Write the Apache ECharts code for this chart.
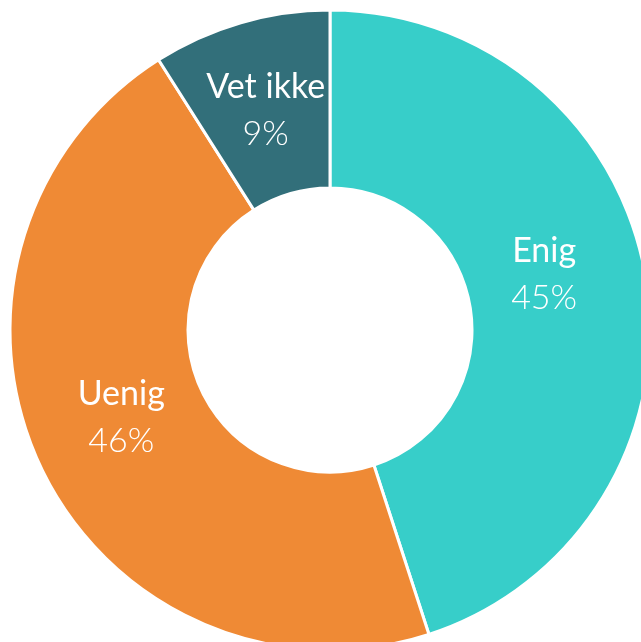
<!DOCTYPE html>
<html>
<head>
<meta charset="utf-8">
<script src="https://cdn.jsdelivr.net/npm/echarts@6/dist/echarts.min.js"></script>
<style>
  html, body { margin: 0; padding: 0; background: #fff; }
  #chart { width: 641px; height: 642px; }
</style>
</head>
<body>
<div id="chart"></div>
<script>
// svar-kategorier og andeler (%)
const categories = ['Enig', 'Uenig', 'Vet ikke'];
const values = [45, 46, 9];
const colors = ['#37CEC9', '#EF8A35', '#326F7A'];
// små justeringer av etikettene
const labelOffsets = [[-17, -19], [3, -12], [1, 5]];

const chart = echarts.init(document.getElementById('chart'));

chart.setOption({
  animation: false,
  color: colors,
  series: [{
    type: 'pie',
    center: [330, 330],
    radius: [142, 320],
    startAngle: 90,
    clockwise: true,
    itemStyle: { borderColor: '#fff', borderWidth: 3 },
    label: {
      show: true,
      position: 'inside',
      formatter: function (p) {
        return '{n|' + p.name + '}\n{v|' + p.value + '%}';
      },
      rich: {
        n: { color: '#fff', fontFamily: 'Lato', fontSize: 34, fontWeight: 400, lineHeight: 47 },
        v: { color: '#fff', fontFamily: 'Lato', fontSize: 34, fontWeight: 300, lineHeight: 47 }
      }
    },
    labelLine: { show: false },
    data: categories.map((c, i) => ({
      name: c,
      value: values[i],
      label: { offset: labelOffsets[i] }
    }))
  }]
});
</script>
</body>
</html>
